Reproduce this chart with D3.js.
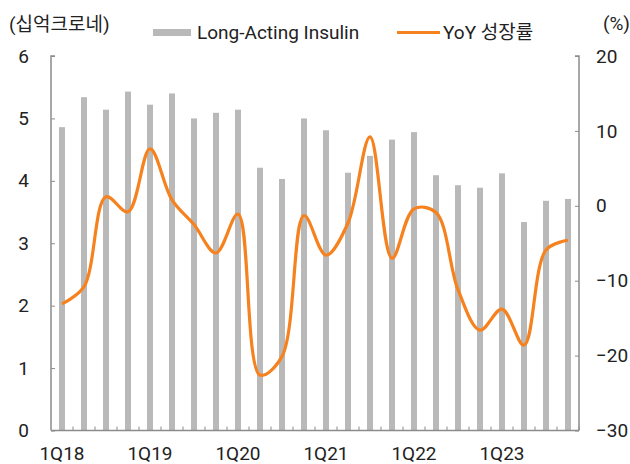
<!DOCTYPE html>
<html>
<head>
<meta charset="utf-8">
<script src="https://d3js.org/d3.v7.min.js"></script>
<style>
  body { margin: 0; background: #fff; }
  svg { font-family: Roboto, "Noto Sans CJK KR", sans-serif; }
  .tick-label { font-size: 19px; fill: #222; }
</style>
</head>
<body>
<div id="chart"></div>
<script>
  // quarters 1Q18 .. 4Q23
  var quarters = [];
  for (var y = 18; y <= 23; y++) {
    for (var q = 1; q <= 4; q++) quarters.push(q + "Q" + y);
  }

  // Long-Acting Insulin sales (십억크로네)
  var sales = [4.86, 5.34, 5.14, 5.43, 5.22, 5.40, 5.00, 5.09,
               5.14, 4.21, 4.03, 5.00, 4.81, 4.13, 4.40, 4.66,
               4.78, 4.09, 3.93, 3.89, 4.12, 3.34, 3.68, 3.71];

  // YoY 성장률 (%)
  var growth = [-13.1, -10.8, 1.2, -0.8, 7.6, 0.8, -2.5, -6.3,
                -1.1, -22.6, -20.1, -1.3, -6.6, -2.3, 9.2, -7.0,
                -0.4, -0.9, -11.2, -16.6, -13.8, -18.6, -5.9, -4.6];

  var leftTicks = [0, 1, 2, 3, 4, 5, 6];
  var rightTicks = [-30, -20, -10, 0, 10, 20];
  var xLabels = ["1Q18", "1Q19", "1Q20", "1Q21", "1Q22", "1Q23"];

  var width = 630, height = 464;
  var plotLeft = 51, plotRight = 579, plotTop = 56, plotBottom = 430.5;

  var svg = d3.select("#chart").append("svg")
      .attr("width", width)
      .attr("height", height);

  var x = d3.scaleBand().domain(quarters).range([plotLeft, plotRight]);
  var yL = d3.scaleLinear().domain([0, 6]).range([plotBottom, plotTop]);
  var yR = d3.scaleLinear().domain([-30, 20]).range([plotBottom, plotTop]);

  var barW = 6;
  var axisColor = "#8c8c8c";

  // bars
  svg.append("g").selectAll("rect")
    .data(sales).enter()
    .append("rect")
    .attr("x", (d, i) => x(quarters[i]) + x.bandwidth() / 2 - barW / 2)
    .attr("y", d => yL(d))
    .attr("width", barW)
    .attr("height", d => plotBottom - yL(d))
    .attr("fill", "#b9b9b9");

  // axes
  var gL = svg.append("g")
    .attr("transform", `translate(${plotLeft},0)`)
    .call(d3.axisRight(yL).tickValues(leftTicks).tickSize(4).tickFormat(""));
  var gR = svg.append("g")
    .attr("transform", `translate(${plotRight},0)`)
    .call(d3.axisLeft(yR).tickValues(rightTicks).tickSize(4).tickFormat(""));
  var gX = svg.append("g")
    .attr("transform", `translate(0,${plotBottom})`)
    .call(d3.axisTop(x).tickSize(4).tickFormat(""));

  // x ticks sit on band boundaries
  gX.selectAll(".tick").attr("transform", d => `translate(${x(d) + x.step()},0)`);
  [gL, gR, gX].forEach(g => {
    g.select(".domain").attr("stroke", axisColor).attr("stroke-width", 1.5);
    g.selectAll(".tick line").attr("stroke", axisColor).attr("stroke-width", 1);
  });
  gL.select(".domain").attr("d", `M4,${plotTop}H0V${plotBottom}`);
  gR.select(".domain").attr("d", `M-4,${plotTop}H0V${plotBottom}`);
  gX.select(".domain").attr("d", `M${plotLeft},0H${plotRight}`);

  // tick labels
  svg.append("g").selectAll("text")
    .data(leftTicks).enter()
    .append("text")
    .attr("class", "tick-label")
    .attr("x", 29)
    .attr("y", d => yL(d))
    .attr("dy", "0.35em")
    .attr("text-anchor", "end")
    .text(d => d);

  svg.append("g").selectAll("text")
    .data(rightTicks).enter()
    .append("text")
    .attr("class", "tick-label")
    .attr("x", 596)
    .attr("y", d => yR(d))
    .attr("dy", "0.35em")
    .text(d => d < 0 ? "\u2212" + Math.abs(d) : d);

  svg.append("g").selectAll("text")
    .data(xLabels).enter()
    .append("text")
    .attr("class", "tick-label")
    .attr("x", d => x(d) + x.bandwidth() / 2)
    .attr("y", 453)
    .attr("dy", "0.35em")
    .attr("text-anchor", "middle")
    .text(d => d);

  // growth line
  var line = d3.line()
    .x((d, i) => x(quarters[i]) + x.bandwidth() / 2)
    .y(d => yR(d))
    .curve(d3.curveCatmullRom.alpha(0.5));

  svg.append("path")
    .datum(growth)
    .attr("d", line)
    .attr("fill", "none")
    .attr("stroke", "#f5821f")
    .attr("stroke-width", 3.2);

  // unit labels
  svg.append("text").attr("class", "tick-label")
    .attr("x", 9).attr("y", 24).attr("dy", "0.35em")
    .text("(십억크로네)");
  svg.append("text").attr("class", "tick-label")
    .attr("x", 630).attr("y", 23).attr("dy", "0.35em")
    .attr("text-anchor", "end")
    .text("(%)");

  // legend
  var legend = svg.append("g");
  legend.append("rect")
    .attr("x", 153).attr("y", 29).attr("width", 38).attr("height", 7)
    .attr("fill", "#b9b9b9");
  legend.append("text").attr("class", "tick-label")
    .attr("x", 197).attr("y", 32).attr("dy", "0.35em")
    .text("Long-Acting Insulin");
  legend.append("line")
    .attr("x1", 397).attr("x2", 440).attr("y1", 32.5).attr("y2", 32.5)
    .attr("stroke", "#f5821f").attr("stroke-width", 3);
  legend.append("text").attr("class", "tick-label")
    .attr("x", 443).attr("y", 32).attr("dy", "0.35em")
    .text("YoY 성장률");
</script>
</body>
</html>
